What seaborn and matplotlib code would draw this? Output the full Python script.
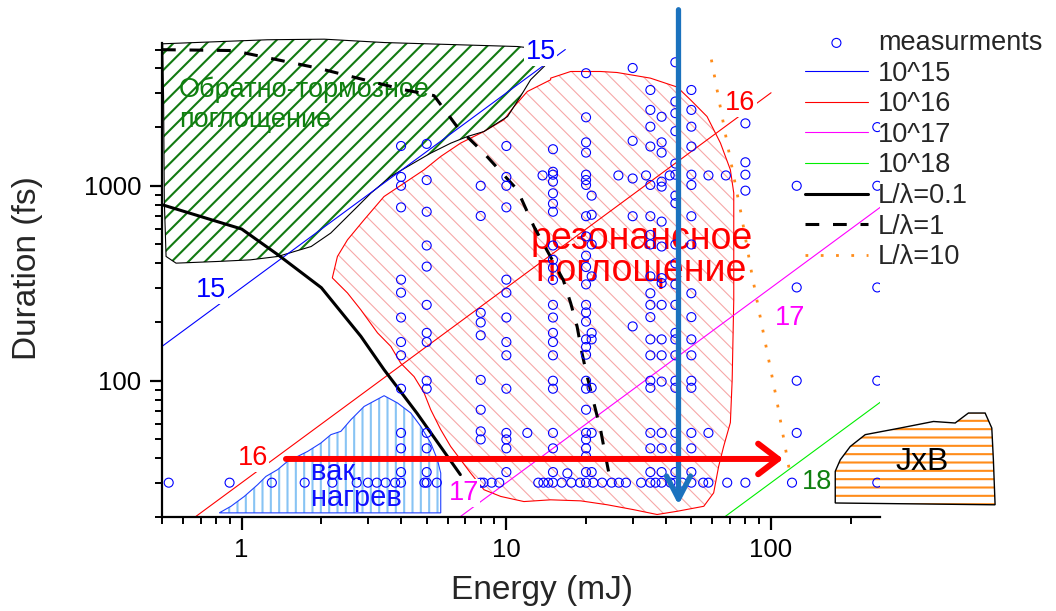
import matplotlib
matplotlib.use('Agg')
import matplotlib.pyplot as plt
from matplotlib.patches import Polygon
from matplotlib.ticker import LogLocator, NullFormatter, FuncFormatter
import seaborn as sns
import pandas as pd

# measurements: energy columns (mJ) and the durations (fs) measured at each
col_energy = [4.0, 5.0, 8.0, 10.0, 12.0, 13.7, 15.0, 17.0, 20.0, 21.0, 26.5, 30.0,
              33.7, 35.0, 38.6, 41.4, 43.5, 50.0, 58.0, 67.5, 80.0, 125.0, 252.0]
col_duration = [
    [1600, 1110, 1000, 775, 330, 283, 211, 158, 135, 91, 54, 45, 34, 30],
    [1640, 1070, 736, 494, 385, 245, 176, 158, 100, 91, 54, 45, 34, 30],
    [1000, 700, 223, 199, 171, 101, 71, 55, 50, 30],
    [1600, 1110, 1000, 775, 330, 283, 211, 158, 135, 91, 54, 50, 45, 34],
    [54],
    [1130],
    [1540, 1180, 1140, 1050, 915, 810, 736, 494, 417, 380, 329, 245, 211, 176, 158, 135, 100, 91, 54, 45, 34, 30],
    [33.5],
    [3780, 2245, 1670, 1480, 1140, 1070, 1010, 698, 550, 438, 383, 312, 245, 224, 201, 163, 149, 136, 100, 91, 71, 54, 50, 45, 41, 34, 30],
    [890, 710, 500, 343, 176, 163, 92, 54, 34],
    [1130],
    [4020, 1700, 1090, 698, 190],
    [1130],
    [3100, 2450, 2010, 1590, 1010, 698, 560, 500, 343, 281, 245, 212, 163, 135, 100, 92, 54, 45, 34, 30],
    [2260, 1670, 1480, 1050, 990, 655, 488, 336, 317, 245, 163, 135, 99, 54, 45, 34, 30],
    [1130],
    [4300, 2705, 2358, 1906, 1300, 1140, 890, 815, 500, 400, 312, 245, 176, 163, 135, 100, 92, 54, 45, 34, 30],
    [3100, 2450, 2010, 1590, 1140, 1010, 698, 500, 281, 212, 163, 135, 100, 92, 54, 45, 34, 30],
    [1130, 54],
    [1130],
    [2090, 1320, 1140, 944],
    [1000, 301, 100, 54],
    [2000, 1000, 301, 100, 30],
]
# extra points of the 30 fs row
row30_energy = [0.53, 0.9, 1.3, 1.73, 2.2, 2.72, 3.0, 3.24, 3.5, 3.8, 4.9, 5.46, 8.2, 8.8, 9.4,
                13.2, 13.8, 14.4, 16.2, 17.6, 19.0, 21.3, 23.0, 25.0, 26.6, 28.3, 32.3, 36.6,
                41.7, 46.2, 55.4, 58.0, 68.3, 80.0, 120.0]

# intensity lines (W/cm^2), duration ~ energy
i15_e, i15_d = [0.5, 16.7], [150, 5000]
i16_e, i16_d = [0.667, 100], [20, 3000]
i17_e, i17_d = [6.67, 262], [20, 786]
i18_e, i18_d = [66.7, 262], [20, 78.6]

# L/lambda curves
l01_e = [0.5, 1.0, 1.37, 2.0, 2.82, 3.45, 4.6, 6.7]
l01_d = [800, 600, 443, 300, 169, 114, 68, 33]
l1_e = [0.5, 0.925, 1.93, 4.1, 5.33, 6.53, 8.2, 11.0, 12.7, 16.4, 17.5, 18.5, 19.3, 20.2, 21.4, 22.7, 23.7, 24.8]
l1_d = [4990, 4940, 4020, 3110, 2900, 2000, 1478, 954, 619, 329, 250, 190, 139, 105, 77, 56, 41, 30]
l10_e = [59.5, 67.5, 77.0, 84.7, 91.8, 105.0, 118.6]
l10_d = [4440, 1790, 724, 350, 200, 80, 32]

# regions
brems_e = [0.503, 1.25, 2.05, 3.45, 11.0, 14.3, 14.5, 12.35, 11.3, 10.1, 8.23, 7.13, 6.17, 5.18, 4.35,
           3.66, 3.08, 2.74, 2.51, 2.17, 1.83, 1.37, 1.08, 0.81, 0.565, 0.518, 0.51, 0.507]
brems_d = [5350, 5610, 5650, 5430, 5180, 4980, 4335, 3500, 2870, 2265, 1898, 1790, 1655, 1471, 1282,
           1117, 918, 783, 696, 572, 488, 434, 417, 409, 401, 434, 847, 2760]
reson_e = [14.7, 17.5, 22.7, 26.2, 35.0, 44.2, 49.6, 57.3, 64.4, 70.2, 72.3, 72.3, 72.3, 71.3, 70.2,
           66.2, 63.4, 60.7, 55.7, 44.2, 37.1, 30.3, 24.1, 19.1, 14.7, 11.65, 9.52, 8.23, 7.33, 6.72,
           6.16, 5.65, 5.18, 4.89, 4.48, 3.99, 3.66, 3.26, 2.82, 2.51, 2.20, 2.30, 2.51, 2.90, 3.45,
           4.11, 4.89, 5.65, 6.72, 8.23, 9.79, 10.7, 12.0, 14.7]
reson_d = [3566, 3857, 3857, 3811, 3566, 3209, 2761, 2266, 1656, 1208, 918, 528, 260, 101, 61,
           46, 36.4, 26.6, 22.7, 21.4, 20.6, 21.8, 23.1, 24.2, 24.5, 24.0, 25.5, 27.6, 33.6, 39.3,
           46.0, 56.1, 71.0, 86.5, 105, 123, 150, 176, 231, 282, 337, 434, 528, 669, 881,
           1032, 1208, 1414, 1656, 1899, 2181, 2551, 3045, 3497]
vac_e = [0.823, 0.911, 1.023, 1.149, 1.235, 1.367, 1.491, 1.627, 1.775, 1.991, 2.173, 2.370, 2.586,
         2.901, 3.452, 3.879, 4.354, 4.750, 5.180, 5.49, 5.65, 5.65]
vac_d = [21.0, 22.7, 25.5, 29.3, 32.3, 35.0, 38.6, 40.9, 43.4, 47.9, 52.9, 55.0, 63.1,
         73.8, 83.8, 76.9, 68.3, 58.3, 47.9, 39.3, 33.6, 21.0]
jxb_e = [174.8, 174.8, 182.6, 199.2, 226.9, 307.5, 410.8, 496.1, 556.8, 643.8, 682.3, 691.8, 702.1]
jxb_d = [23.6, 34.3, 39.3, 46.0, 52.9, 57.2, 61.8, 60.7, 68.3, 68.3, 57.2, 39.3, 23.1]

sns.set_theme(style='ticks')
plt.rcParams['font.family'] = ['Liberation Sans', 'DejaVu Sans']

fig = plt.figure(figsize=(10.56, 6.11), dpi=100)
ax = fig.add_axes([162 / 1056, 1 - 517 / 611, 718 / 1056, 474 / 611])
ax.set_xscale('log')
ax.set_yscale('log')
ax.set_xlim(0.5, 258)
ax.set_ylim(20, 5400)


def region(ex, dur, hatch, hcolor, hlw, ecolor, elw, clip=True):
    pts = list(zip(ex, dur))
    with plt.rc_context({'hatch.linewidth': hlw}):
        h = Polygon(pts, closed=True, facecolor='none', edgecolor=hcolor, lw=0,
                    hatch=hatch, zorder=1, clip_on=clip)
        if hasattr(h, 'set_hatch_linewidth'):
            h.set_hatch_linewidth(hlw)
        ax.add_patch(h)
    ax.add_patch(Polygon(pts, closed=True, facecolor='none', edgecolor=ecolor, lw=elw,
                         zorder=1.5, clip_on=clip))


region(reson_e, reson_d, '\\\\', '#f6a8a8', 0.8, '#ff0000', 0.8)
region(brems_e, brems_d, '//', '#127a12', 1.5, 'black', 0.8, clip=False)
region(vac_e, vac_d, '||', '#88c4f4', 1.5, '#2040ff', 0.8)
region(jxb_e, jxb_d, '--', '#ff8c1a', 1.5, 'black', 1.0, clip=False)

# measurements
meas = pd.DataFrame({
    'energy': [e for e, ds in zip(col_energy, col_duration) for _ in ds] + row30_energy,
    'duration': [d for ds in col_duration for d in ds] + [30] * len(row30_energy),
})
sns.scatterplot(data=meas, x='energy', y='duration', ax=ax, marker='o', s=42,
                facecolor='none', edgecolor='#0000ff', linewidth=0.8, zorder=4,
                label='measurments')

sns.lineplot(x=i15_e, y=i15_d, ax=ax, color='#0000ff', lw=0.8, label='10^15', zorder=2)
sns.lineplot(x=i16_e, y=i16_d, ax=ax, color='#ff0000', lw=0.8, label='10^16', zorder=2)
sns.lineplot(x=i17_e, y=i17_d, ax=ax, color='#ff00ff', lw=0.8, label='10^17', zorder=2)
sns.lineplot(x=i18_e, y=i18_d, ax=ax, color='#00ee00', lw=0.8, label='10^18', zorder=2)
sns.lineplot(x=l01_e, y=l01_d, ax=ax, color='black', lw=2.2, label='L/λ=0.1', zorder=3.5, sort=False)
sns.lineplot(x=l1_e, y=l1_d, ax=ax, color='black', lw=2.2, linestyle=(0, (4.5, 4.5)),
             label='L/λ=1', zorder=3.5, sort=False)
sns.lineplot(x=l10_e, y=l10_d, ax=ax, color='#ff8c1a', lw=2.0, linestyle=(0, (1, 4.5)),
             label='L/λ=10', zorder=3.5, sort=False)

# region captions
ax.text(0.58, 2600, 'Обратно-тормозное\nпоглощение', color='#108010', fontsize=19.5,
        ha='left', va='center', zorder=3)
ax.text(32.4, 443, 'резонансное\nпоглощение', color='#ff0000', fontsize=27,
        ha='center', va='center', linespacing=0.85, zorder=3)
ax.text(1.83, 29.3, 'вак.\nнагрев', color='#1010ff', fontsize=21,
        ha='left', va='center', linespacing=0.9, zorder=3)
ax.text(372, 38.4, 'JxB', color='black', fontsize=23, ha='center', va='center',
        zorder=6, clip_on=False)

# intensity labels
box = dict(facecolor='white', edgecolor='none', pad=1)
for x, y, t, c in [(0.766, 293, '15', '#0000ff'), (13.5, 4865, '15', '#0000ff'),
                   (76.6, 2665, '16', '#ff0000'), (1.10, 40.3, '16', '#ff0000'),
                   (118.2, 210, '17', '#ff00ff'), (6.9, 26.6, '17', '#ff00ff'),
                   (149.5, 30.3, '18', '#108010')]:
    ax.text(x, y, t, color=c, fontsize=19.5, ha='center', va='center', zorder=6, bbox=box)

# arrows
ax.annotate('', xy=(44.7, 23.1), xytext=(44.7, 8000), annotation_clip=False, zorder=5,
            arrowprops=dict(arrowstyle='->,head_length=0.83,head_width=0.43', mutation_scale=20,
                            color='#1b72be', lw=3.8, shrinkA=0, shrinkB=0))
ax.annotate('', xy=(111, 39.7), xytext=(1.47, 39.7), annotation_clip=False, zorder=5.5,
            arrowprops=dict(arrowstyle='->,head_length=0.72,head_width=0.55', mutation_scale=20,
                            color='#ff0000', lw=4.3, shrinkA=0, shrinkB=0))

# axes styling
for s in ['top', 'right']:
    ax.spines[s].set_visible(False)
for s in ['left', 'bottom']:
    ax.spines[s].set_linewidth(1.6)
    ax.spines[s].set_color('black')
ax.xaxis.set_major_locator(LogLocator(base=10))
ax.yaxis.set_major_locator(LogLocator(base=10))
ax.xaxis.set_minor_locator(LogLocator(base=10, subs=range(2, 10)))
ax.yaxis.set_minor_locator(LogLocator(base=10, subs=range(2, 10)))
ax.xaxis.set_minor_formatter(NullFormatter())
ax.yaxis.set_minor_formatter(NullFormatter())
fmt = FuncFormatter(lambda v, p: f'{v:g}')
ax.xaxis.set_major_formatter(fmt)
ax.yaxis.set_major_formatter(fmt)
ax.tick_params(which='major', direction='out', length=9, width=1.6, labelsize=18.5, pad=6,
               color='black', labelcolor='black')
ax.tick_params(which='minor', direction='out', length=5, width=1.4, color='black')

ax.set_xlabel('Energy (mJ)', fontsize=24)
ax.set_ylabel('Duration (fs)', fontsize=24)
ax.xaxis.set_label_coords(0.529, -0.122)
ax.yaxis.set_label_coords(-0.166, 0.525)

handles, labels = ax.get_legend_handles_labels()
order = ['measurments', '10^15', '10^16', '10^17', '10^18', 'L/λ=0.1', 'L/λ=1', 'L/λ=10']
hmap = dict(zip(labels, handles))
ax.legend([hmap[k] for k in order], order, loc='upper left', bbox_to_anchor=(805 / 1056, 1 - 30 / 611),
          bbox_transform=fig.transFigure, frameon=False, fontsize=19.5, labelspacing=0.17,
          handlelength=2.32, handletextpad=0.37, borderpad=0, borderaxespad=0, scatterpoints=1)

fig.savefig('out.png', dpi=100)
